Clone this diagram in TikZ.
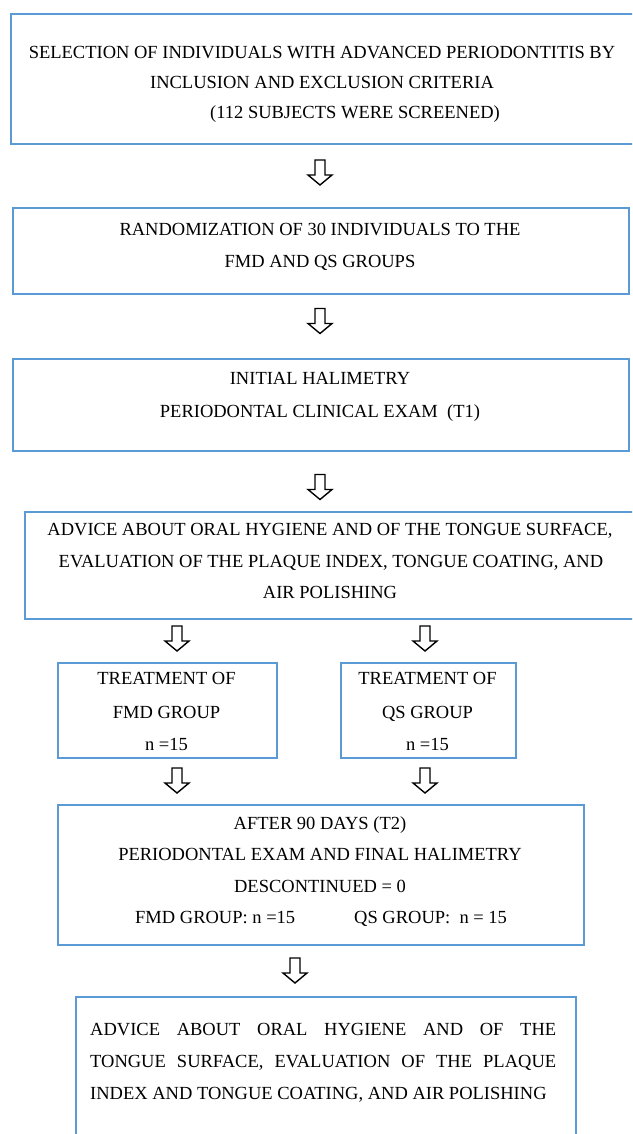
\documentclass[tikz,border=0pt]{standalone}
\usepackage{fontspec}
\setmainfont{Liberation Serif}
\definecolor{boxblue}{RGB}{91,155,213}
\begin{document}
\begin{tikzpicture}[x=1pt,y=-1pt,
  box/.style={draw=boxblue, line width=1.8pt, inner sep=0pt, anchor=north west},
  txt/.style={font=\fontsize{18.5}{22}\selectfont, inner sep=0pt, anchor=base},
  txtl/.style={txt, anchor=base west},
  harrow/.pic={\draw[line width=1.4pt, line join=miter, fill=white]
     (-5,-12.5) -- (-5,2.5) -- (-12,2.5) -- (0,12.5) -- (12,2.5) -- (5,2.5) -- (5,-12.5) -- cycle;}]
\useasboundingbox (0,0) rectangle (632,1134);
\clip (0,0) rectangle (632,1134);

% boxes
\node[box, minimum width=640pt, minimum height=130pt] (b1) at (10,13) {};
\node[box, minimum width=616pt, minimum height=86pt]  (b2) at (12,207) {};
\node[box, minimum width=616pt, minimum height=92pt]  (b3) at (12,358) {};
\node[box, minimum width=630pt, minimum height=107pt] (b4) at (24,511) {};
\node[box, minimum width=219pt, minimum height=95pt]  (b5) at (57,662) {};
\node[box, minimum width=175pt, minimum height=95pt]  (b6) at (340,662) {};
\node[box, minimum width=526pt, minimum height=140pt] (b7) at (57,804) {};
\node[box, minimum width=500pt, minimum height=160pt] (b8) at (75,996) {};

% texts
\node[txt] (t11) at (322,59) {SELECTION OF INDIVIDUALS WITH ADVANCED PERIODONTITIS BY};
\node[txt] (t12) at (322,89) {INCLUSION AND EXCLUSION CRITERIA};
\node[txt] (t13) at (355,119) {(112 SUBJECTS WERE SCREENED)};

\node[txt] (t21) at (320,235) {RANDOMIZATION OF 30 INDIVIDUALS TO THE};
\node[txt] (t22) at (320,267) {FMD AND QS GROUPS};

\node[txt] (t31) at (320,384) {INITIAL HALIMETRY};
\node[txt] (t32) at (320,417) {PERIODONTAL CLINICAL EXAM\ \ (T1)};

\node[txt] (t41) at (330,535) {ADVICE ABOUT ORAL HYGIENE AND OF THE TONGUE SURFACE,};
\node[txt] (t42) at (331,567) {EVALUATION OF THE PLAQUE INDEX, TONGUE COATING, AND};
\node[txt] (t43) at (330,598) {AIR POLISHING};

\node[txt] (t51) at (166.5,684) {TREATMENT OF};
\node[txt] (t52) at (166.5,718) {FMD GROUP};
\node[txt] (t53) at (166.5,750) {n =15};

\node[txt] (t61) at (427.5,684) {TREATMENT OF};
\node[txt] (t62) at (427.5,718) {QS GROUP};
\node[txt] (t63) at (427.5,750) {n =15};

\node[txt] (t71) at (320,829) {AFTER 90 DAYS (T2)};
\node[txt] (t72) at (320,860) {PERIODONTAL EXAM AND FINAL HALIMETRY};
\node[txt] (t73) at (320,892) {DESCONTINUED = 0};
\node[txtl] (t74) at (135,923) {FMD GROUP: n =15};
\node[txtl] (t75) at (354,923) {QS GROUP:\ \ n = 15};

\node[txtl] (t81) at (90,1035) {\makebox[466pt][s]{ADVICE ABOUT ORAL HYGIENE AND OF THE}};
\node[txtl] (t82) at (90,1067) {\makebox[466pt][s]{TONGUE SURFACE, EVALUATION OF THE PLAQUE}};
\node[txtl] (t83) at (90,1099) {INDEX AND TONGUE COATING, AND AIR POLISHING};

% block arrows between boxes
\coordinate (a1) at (320,172.5);
\coordinate (a2) at (320,321);
\coordinate (a3) at (320,487);
\coordinate (a4l) at (177,638.5);
\coordinate (a4r) at (425,638.5);
\coordinate (a5l) at (177,780.5);
\coordinate (a5r) at (425,780.5);
\coordinate (a6) at (295,970.5);
\foreach \c in {a1,a2,a3,a4l,a4r,a5l,a5r,a6} {\pic at (\c) {harrow};}
\end{tikzpicture}
\end{document}
